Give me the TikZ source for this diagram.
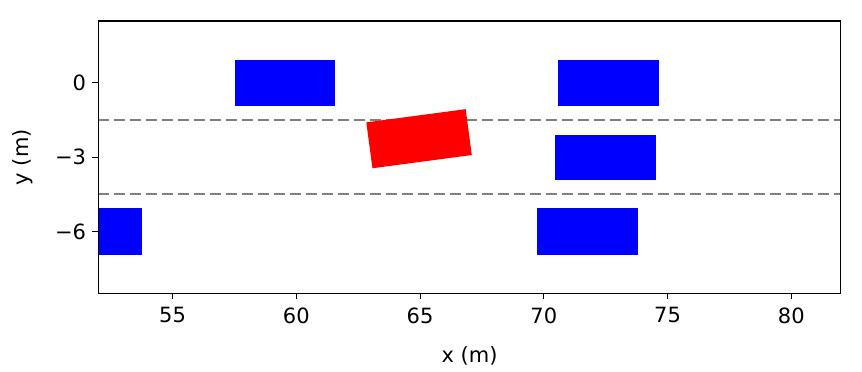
\documentclass[tikz,border=0pt]{standalone}
\usepackage{fontspec}
\setmainfont{DejaVu Sans}
\begin{document}
\begin{tikzpicture}[
  car/.style={fill=blue, draw=none},
  ego/.style={fill=red, draw=none},
  lane/.style={draw=gray, line width=2.4pt, dash pattern=on 10.5pt off 5.5pt},
  frame/.style={draw=black, line width=1.3pt},
  tick/.style={draw=black, line width=1.1pt},
  ticklbl/.style={font=\fontsize{21}{25}\selectfont, inner sep=0pt},
  axlbl/.style={font=\fontsize{21}{25}\selectfont, inner sep=0pt}
]
\useasboundingbox (0,0) rectangle (862pt,372pt);
\begin{scope}[shift={(-1188.7pt,289.1pt)}, x=24.75pt, y=24.75pt]
  \begin{scope}
    \clip (52,-8.5) rectangle (82,2.5);
    % lane markings
    \coordinate (l1a) at (52,-1.5); \coordinate (l1b) at (82,-1.5);
    \coordinate (l2a) at (52,-4.5); \coordinate (l2b) at (82,-4.5);
    \draw[lane] (l1a) -- (l1b);
    \draw[lane] (l2a) -- (l2b);
    % other vehicles
    \path[car] (57.52,-0.93) rectangle (61.57,0.92);
    \path[car] (70.59,-0.93) rectangle (74.65,0.92);
    \path[car] (70.47,-3.91) rectangle (74.53,-2.09);
    \path[car] (69.73,-6.94) rectangle (73.80,-5.07);
    \path[car] (49.70,-6.94) rectangle (53.76,-5.07);
    % ego vehicle
    \path[ego, rotate around={7.6:(64.96,-2.255)}] (62.935,-3.19) rectangle (66.985,-1.32);
  \end{scope}
  % frame
  \node[draw=none, inner sep=0pt, minimum size=0pt] (bl) at (52,-8.5) {};
  \node[draw=none, inner sep=0pt, minimum size=0pt] (tr) at (82,2.5) {};
  \draw[frame] (bl.center) rectangle (tr.center);
  % x ticks
  \foreach \v in {55,60,65,70,75,80}{
    \draw[tick] (\v,-8.5) -- ++(0,-6pt);
    \node[ticklbl, anchor=north] (xt\v) at ([yshift=-14pt]\v,-8.5) {\v};
  }
  % y ticks
  \foreach \v/\t in {0/0,-3/−3,-6/−6}{
    \draw[tick] (52,\v) -- ++(-6pt,0);
    \node[ticklbl, anchor=east] (yt\t) at ([xshift=-12pt]52,\v) {\t};
  }
  \node[axlbl] (xl) at (67,-11.05) {x (m)};
  \node[axlbl, rotate=90] (yl) at (48.95,-3) {y (m)};
\end{scope}
\end{tikzpicture}
\end{document}
